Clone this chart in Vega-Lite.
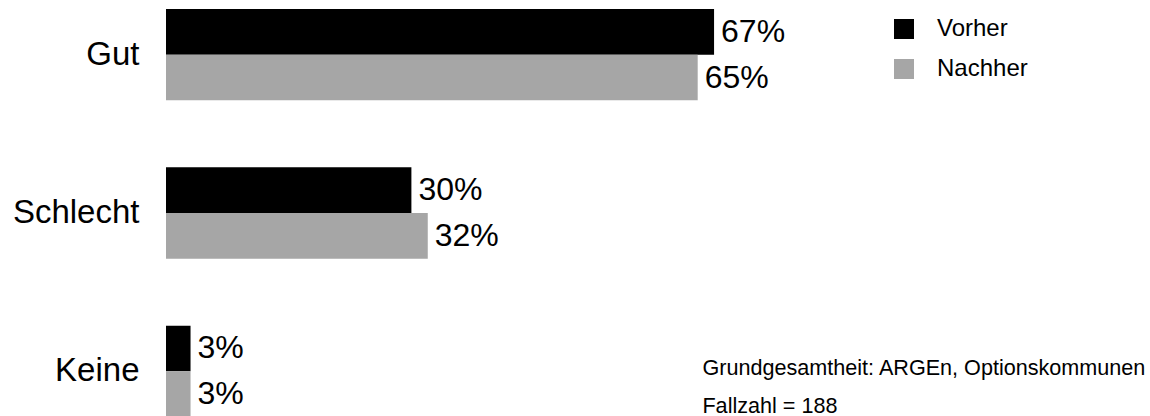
{
  "$schema": "https://vega.github.io/schema/vega-lite/v6.json",
  "autosize": {"type": "none"},
  "width": 818,
  "height": 408,
  "padding": {"left": 166, "top": 9, "right": 166, "bottom": 0},
  "background": "white",
  "config": {
    "view": {"stroke": null},
    "font": "Liberation Sans"
  },
  "title": {
    "text": ["Grundgesamtheit: ARGEn, Optionskommunen", "Fallzahl = 188"],
    "orient": "bottom",
    "anchor": "start",
    "align": "left",
    "baseline": "alphabetic",
    "dx": 690,
    "offset": -42,
    "fontSize": 21.6,
    "fontWeight": "normal",
    "font": "Liberation Sans",
    "color": "#000000",
    "lineHeight": 38
  },
  "data": {
    "values": [
      {"cat": "Gut", "phase": "Vorher", "value": 0.67},
      {"cat": "Gut", "phase": "Nachher", "value": 0.65},
      {"cat": "Schlecht", "phase": "Vorher", "value": 0.30},
      {"cat": "Schlecht", "phase": "Nachher", "value": 0.32},
      {"cat": "Keine", "phase": "Vorher", "value": 0.03},
      {"cat": "Keine", "phase": "Nachher", "value": 0.03}
    ]
  },
  "encoding": {
    "y": {
      "field": "cat",
      "type": "nominal",
      "sort": ["Gut", "Schlecht", "Keine"],
      "scale": {"paddingInner": 0.423, "paddingOuter": 0},
      "axis": {
        "title": null,
        "ticks": false,
        "domain": false,
        "labelFontSize": 33,
        "labelColor": "#000000",
        "labelPadding": 27,
        "labelFont": "Liberation Sans"
      }
    },
    "yOffset": {
      "field": "phase",
      "type": "nominal",
      "sort": ["Vorher", "Nachher"],
      "scale": {"paddingInner": 0, "paddingOuter": 0}
    },
    "x": {
      "field": "value",
      "type": "quantitative",
      "scale": {"domain": [0, 1]},
      "axis": null
    }
  },
  "layer": [
    {
      "mark": {"type": "bar", "cornerRadius": 0},
      "encoding": {
        "color": {
          "field": "phase",
          "type": "nominal",
          "sort": ["Vorher", "Nachher"],
          "scale": {"domain": ["Vorher", "Nachher"], "range": ["#000000", "#a6a6a6"]},
          "legend": {
            "title": null,
            "orient": "none",
            "legendX": 726,
            "legendY": 8,
            "padding": 0,
            "symbolType": "square",
            "symbolSize": 400,
            "symbolStrokeWidth": 0,
            "symbolOpacity": 1,
            "labelFontSize": 24,
            "labelFont": "Liberation Sans",
            "labelColor": "#000000",
            "labelOffset": 21,
            "rowPadding": 16
          }
        }
      }
    },
    {
      "mark": {"type": "text", "align": "left", "baseline": "middle", "dx": 7, "fontSize": 32, "font": "Liberation Sans", "color": "#000000"},
      "encoding": {
        "text": {"field": "value", "type": "quantitative", "format": ".0%"},
        "detail": {"field": "phase"}
      }
    }
  ]
}
